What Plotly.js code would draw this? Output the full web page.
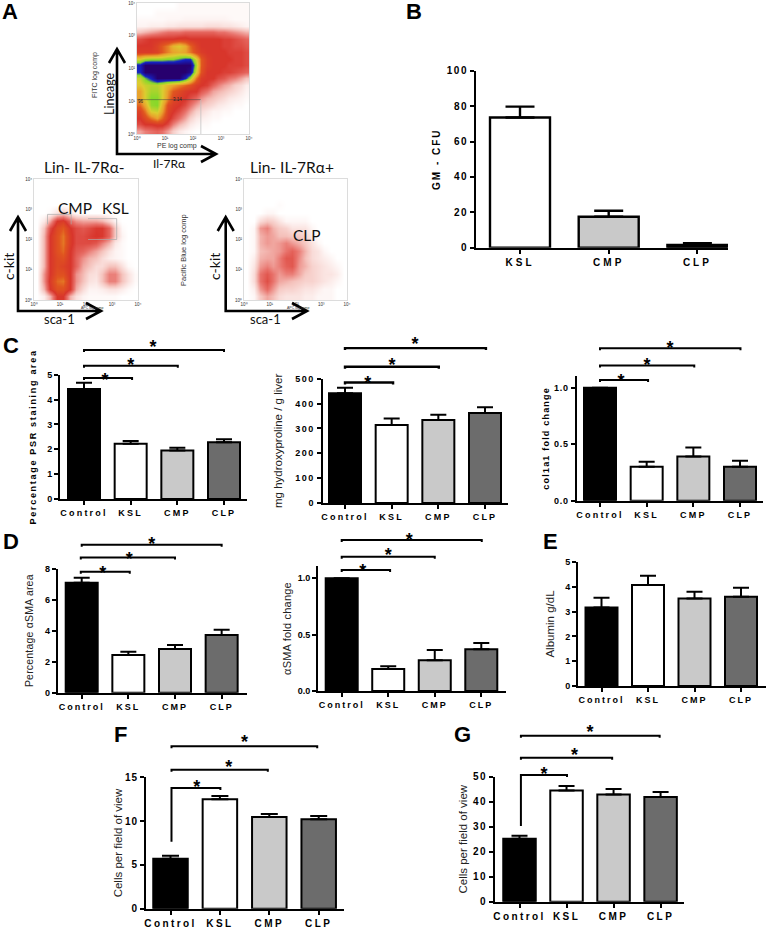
<!DOCTYPE html>
<html><head><meta charset="utf-8">
<script src="https://cdn.plot.ly/plotly-3.0.1.min.js"></script>
<style>html,body{margin:0;padding:0;background:#fff}#chart{width:767px;height:929px}</style>
</head><body><div id="chart"></div>
<script>
const W = 767, H = 929;
const fourCats = ['Control','KSL','CMP','CLP'];
const threeCats = ['KSL','CMP','CLP'];
const fourColors = ['#000000','#ffffff','#c9c9c9','#6c6c6c'];
const threeColors = ['#ffffff','#c9c9c9','#000000'];

const gmValues = [73.6,17.5,1.5],            gmErrors = [6.1,3.4,1.1];
const psrValues = [4.42,2.22,1.95,2.28],     psrErrors = [0.26,0.11,0.11,0.12];
const hypValues = [441,314,334,362],         hypErrors = [23,26,21,23];
const colValues = [1.0,0.30,0.39,0.30],      colErrors = [0,0.045,0.08,0.054];
const smaValues = [7.1,2.43,2.82,3.72],      smaErrors = [0.32,0.22,0.26,0.34];
const smaFoldValues = [1.0,0.195,0.272,0.37],smaFoldErrors = [0,0.025,0.092,0.056];
const albValues = [3.17,4.07,3.53,3.6],      albErrors = [0.39,0.38,0.27,0.36];
const cellsFValues = [5.71,12.49,10.47,10.2],cellsFErrors = [0.34,0.38,0.34,0.38];
const cellsGValues = [25.2,44.5,42.9,41.9],  cellsGErrors = [1.2,1.8,2.2,2.0];

// density levels, top row first
const lineageDensity = [
[0,0,0,0,0,0,0,.1,.1,.1,.1,.1,.1,.1,.1,.1,.1,.1,.1,.1],
[0,0,0,.1,.1,.1,.1,.1,.1,.1,.1,.1,.1,.1,.1,.1,.1,.1,.1,.1],
[.1,.1,.1,.1,.1,.15,.15,.15,.2,.2,.2,.2,.2,.2,.2,.2,.15,.1,.1,.1],
[.2,.2,.3,.3,.3,.4,.4,.5,.5,.5,.5,.5,.6,.6,.6,.5,.5,.4,.3,.2],
[1,1.2,1.4,1.6,1.8,2,2,2,2.2,2.2,2.2,2.2,2.2,2.2,2,2,1.8,1.6,1.4,1.2],
[2.6,2.8,3,3,3,3,3,3.2,3.2,3,3,3,3,3,3,2.8,2.8,2.6,2.4,2.2],
[3,3,3,3.4,4,4.6,5.4,5.8,5.2,4.2,3.4,3,3,3,3,2.8,2.8,2.6,2.6,2.4],
[3.2,3.2,3.2,3.4,4,4.6,5,5.2,5,4.4,3.6,3.2,3,3,3,3,2.8,2.8,2.8,2.6],
[6,6.6,6.8,6.8,6.8,7,7,7.4,7.8,7.8,6,4,3.2,3,3,3,3,2.8,2.8,2.6],
[8,9,9,9,9,9,9,9,9,9,6.6,4,3.2,3,3,3,2.8,2.8,2.8,2.6],
[7.8,9,9,9,9,9,9,9,9,8.6,6,3.8,3,3,3,2.8,2.8,2.6,2.4,2.2],
[6.2,7.2,8,9,9,9,9,9,8,6.6,4.4,3.2,3,3,2.6,2.4,2,1.8,1.4,1],
[5.8,6.2,6.4,6.4,6,5.4,5,4.6,4.2,3.8,3.2,3,2.8,2.2,1.8,1.4,1.2,.8,.6,.3],
[5,6,6.6,6.6,6,4.8,4,3.6,3.2,3,3,2.4,2,1.4,1.2,1,.8,.6,.4,.2],
[5,6,7,7,6,4.6,3.6,3.2,3,2.6,2.2,1.6,1.2,1,.8,.6,.4,.3,.2,.1],
[4.2,5.2,6.8,7,5.4,3.6,3.2,3,2.6,2,1.4,1,.8,.6,.4,.3,.2,.1,.1,0],
[3.4,4.4,6,6.2,5,3.4,3,2.6,2,1.4,.8,.6,.4,.2,.2,.1,.1,0,0,0],
[3,3.6,4.4,5,4.2,3.2,2.6,2,1.4,.8,.4,.3,.2,.1,.1,0,0,0,0,0],
[2.6,3,3,3.2,3.2,2.6,1.8,1.2,.8,.4,.2,.1,.1,0,0,0,0,0,0,0],
[1.4,1.8,2,2.2,2,1.4,.8,.4,.2,.1,0,0,0,0,0,0,0,0,0,0]];

const negDensity = [
[0,0,0,0,0,0,0,0,0,0,0,0,0,0,0,0],
[0,0,0,0,0,0,0,0,0,0,0,0,0,0,0,0],
[0,0,0,0,0,0,0,0,0,0,0,0,0,0,0,0],
[0,0,0,0,0,0,0,0,0,0,0,0,0,0,0,0],
[0,0,.1,.5,.8,.4,.1,0,0,0,0,0,0,0,0,0],
[0,.4,1.4,3,3.2,2.2,1.6,1.4,1.4,1.4,1.2,.7,.2,0,0,0],
[0,1,2.6,3.6,4,3,2.6,2.4,2.6,2.9,2.9,2.2,.9,.1,0,0],
[0,1.2,3,3.8,4.4,3.2,2.6,2.6,2.8,3,2.9,2.2,.9,.2,0,0],
[0,1.2,3,3.8,4.4,3.2,2.6,2.6,2.6,2.4,1.8,1.2,.4,.1,0,0],
[0,1.2,3,3.8,4.2,3,2.4,2.2,1.8,1.4,1,.5,.2,.1,0,0],
[0,1.2,3,3.6,3.8,3,2.2,1.6,1.2,1,.6,.3,.2,.1,0,0],
[0,1.2,3,3.6,3.4,3,2.2,1.3,1,.6,.6,1,1,.5,.1,0],
[0,1.6,3,3.8,3.8,3,1.6,1.1,.6,.5,1,1.8,1.8,1,.5,.1],
[0,1.6,3.2,4.2,4.4,3,1.6,1,.5,.4,1,1.8,1.8,1,.5,.1],
[0,1.2,3,3.8,3.8,3,1.3,.6,.2,.2,.3,.5,.5,.3,.1,0],
[0,.3,1.2,3,3,1.2,.5,.2,.1,.1,.1,.1,.1,0,0,0]];

const posDensity = [
[0,0,0,0,0,0,0,0,0,0,0,0,0,0,0,0],
[0,0,0,0,0,0,0,0,0,0,0,0,0,0,0,0],
[0,0,0,0,0,0,0,0,0,0,0,0,0,0,0,0],
[0,0,0,0,0,.05,0,0,0,0,0,0,0,0,0,0],
[0,0,0,.1,.1,0,0,0,0,0,0,0,0,0,0,0],
[0,0,.4,.6,.5,.3,.1,.1,.1,.1,0,0,0,0,0,0],
[0,.1,1,1.2,.8,.6,.5,.3,.3,.3,.1,0,0,0,0,0],
[0,.1,.8,1,.9,.7,.7,.6,.6,.5,.2,0,0,0,0,0],
[0,.1,.8,1,.9,1,1.2,1,.8,.6,.3,.1,0,0,0,0],
[0,.1,.7,.8,.9,1,1.3,1.5,1.2,.8,.4,.3,.1,0,0,0],
[0,.2,.8,.9,.9,1.2,1.6,1.6,1.1,.7,.4,.3,.2,.1,0,0],
[0,.3,1,1.2,1,1.2,1.5,1.6,1,.8,.5,.4,.3,.2,.1,0],
[0,.4,1.3,1.6,1.3,1,1.2,1.2,.9,.6,.5,.4,.3,.3,.2,0],
[0,.4,1.3,1.7,1.3,.9,.8,.7,.6,.5,.5,.4,.3,.2,.1,0],
[0,.2,1,1.4,1,.6,.5,.5,.4,.3,.3,.2,.1,.1,0,0],
[0,.1,.6,.9,.7,.4,.3,.3,.3,.2,.2,.1,.1,.1,0,0]];

const flowColors = [[0,'#ffffff'],[.11,'#f5c4be'],[.22,'#e8716a'],[.33,'#d8352b'],[.44,'#e0551f'],[.55,'#e9a12c'],[.66,'#dccd30'],[.78,'#86d82a'],[.87,'#1423c4'],[1,'#27006e']];
const decadeLabels = ['10⁰','10¹','10²','10³','10⁴'];

const FONT = 'Liberation Sans, Arial, sans-serif';
const LATO = 'Lato, sans-serif';
const panels = [
 {cats:threeCats,colors:threeColors,values:gmValues,errors:gmErrors,x0:476,x1:728,c0:520,s:88.7,w:60,py0:247.7,py1:70.7,ymax:100,dy:20,title:'GM - CFU',tb:true,ts:2,so:4,tf:10,lf:10,lsp:3,ysp:1.5,cap:14.5,lw:2.4},
 {cats:fourCats,colors:fourColors,values:psrValues,errors:psrErrors,x0:60,x1:246.7,c0:84,s:46.67,w:32,py0:499,py1:374.7,ymax:5,dy:1,title:'Percentage PSR staining area',tb:true,ts:1.7,so:9,tf:9,lf:9,lsp:2.2,ysp:0,cap:8,
  br:[[0,1.03,4.87],[0,2.01,5.36],[0,3,5.99]],st:[[.45,4.92],[1,5.52],[1.48,6.24]]},
 {cats:fourCats,colors:fourColors,values:hypValues,errors:hypErrors,x0:322.7,x1:508,c0:345,s:46.67,w:32,py0:503,py1:378.7,ymax:500,dy:100,title:'mg hydroxyproline / g liver',tb:false,ts:0,so:10,tf:11.5,lf:9,lsp:2.2,ysp:1.5,cap:8,blw:2.4,
  br:[[0,1.03,485],[0,2.01,548],[0,3.02,623]],st:[[.486,497],[1.01,568],[1.5,655]]},
 {cats:fourCats,colors:fourColors,values:colValues,errors:colErrors,x0:576.7,x1:763,c0:600,s:46.67,w:32,py0:500.7,py1:376,ymax:1.103,tv:[0,.5,1],tt:['0.0','0.5','1.0'],title:'col1a1 fold change',tb:true,ts:1.2,so:3,tf:9,lf:9,lsp:2.2,ysp:.8,cap:8,
  br:[[0,1.03,1.068],[0,2.02,1.195],[0,3.01,1.348]],st:[[.45,1.088],[1.01,1.233],[1.5,1.386]]},
 {cats:fourCats,colors:fourColors,values:smaValues,errors:smaErrors,x0:57.7,x1:247,c0:81.7,s:46.65,w:32,py0:692.7,py1:568.7,ymax:8,dy:2,title:'Percentage αSMA area',tb:false,ts:.2,so:9,tf:10.5,lf:9,lsp:2,ysp:0,cap:8,
  br:[[-.02,1.03,7.81],[-.02,2,8.73],[0,3,9.55]],st:[[.45,7.96],[1.02,8.88],[1.5,9.83]]},
 {cats:fourCats,colors:fourColors,values:smaFoldValues,errors:smaFoldErrors,x0:318,x1:506,c0:341.7,s:46.53,w:32,py0:691,py1:566,ymax:1.109,tv:[0,.5,1],tt:['0.0','0.5','1.0'],title:'αSMA fold change',tb:false,ts:.2,so:4,tf:11,lf:9,lsp:2,ysp:0,cap:8,
  br:[[0,1.04,1.074],[0,2,1.192],[0,3.01,1.34]],st:[[.45,1.095],[1,1.234],[1.45,1.37]]},
 {cats:fourCats,colors:fourColors,values:albValues,errors:albErrors,x0:578,x1:765.6,c0:601.5,s:46.5,w:32,py0:686,py1:562,ymax:5,dy:1,title:'Albumin g/dL',tb:false,ts:0,so:8,tf:11.5,lf:9,lsp:2,ysp:0,cap:8},
 {cats:fourCats,colors:fourColors,values:cellsFValues,errors:cellsFErrors,x0:146,x1:344,c0:170.5,s:49.4,w:34.5,py0:908.7,py1:777.3,ymax:15,dy:5,title:'Cells per field of view',tb:false,ts:0,so:0,tf:11.5,lf:10,lsp:2.4,ysp:1,cap:8.5,
  br:[[.02,1.01,13.78,7.65],[.02,1.97,15.87],[.02,2.97,18.54]],st:[[.53,14.24],[1.18,16.6],[1.5,19.45]]},
 {cats:fourCats,colors:fourColors,values:cellsGValues,errors:cellsGErrors,x0:495,x1:684.4,c0:519.5,s:47.03,w:32.5,py0:901.7,py1:776.7,ymax:50,dy:10,title:'Cells per field of view',tb:false,ts:0,so:3,tf:11.5,lf:10,lsp:2.4,ysp:1.5,cap:8,
  br:[[.03,1.01,50.7,30.3],[.03,1.97,57.6],[.03,2.98,66.4]],st:[[.52,52.4],[1.17,60],[1.5,69.3]]}
];

const flows = [
 {z:lineageDensity,zmax:9,x0:137,x1:249,py0:134,py1:3},
 {z:negDensity,zmax:9,x0:34,x1:138,py0:300,py1:179,
  gates:[[[.52,.52,1.43,1.43],[2.5,2.83,2.83,2.5]],[[2.08,3.18,3.18,2.08],[2.69,2.69,2.0,2.0]]]},
 {z:posDensity,zmax:6,x0:244,x1:347,py0:300,py1:179}
];

const data = [], layout = {
 width:W,height:H,autosize:false,margin:{l:0,r:0,t:0,b:0,pad:0},
 paper_bgcolor:'#fff',plot_bgcolor:'rgba(0,0,0,0)',showlegend:false,hovermode:false,
 font:{family:FONT,color:'#000'},annotations:[],shapes:[]
};
let css = '';
let idx = 1;
let auxIdx = flows.length + panels.length + 1;
const BRACKET_ROOM = 50; // px of invisible axis above each visible y axis, same scale
const axName = n => n===1?'':String(n);
const pxX = x => x/W, pxY = y => 1-y/H;

flows.forEach(f=>{
 const k = axName(idx), rows = f.z.length, cols = f.z[0].length;
 const cx = f.z[0].map((_,i)=>(i+.5)*4/cols), cy = f.z.map((_,i)=>(i+.5)*4/rows);
 data.push({type:'heatmap',z:f.z.slice().reverse(),x:cx,y:cy,zmin:0,zmax:f.zmax,colorscale:flowColors,showscale:false,zsmooth:'best',hoverinfo:'skip',xaxis:'x'+k,yaxis:'y'+k});
 (f.gates||[]).forEach(g=>data.push({type:'scatter',mode:'lines',x:g[0],y:g[1],line:{color:'#aaa',width:.7},xaxis:'x'+k,yaxis:'y'+k,hoverinfo:'skip'}));
 const common = {range:[0,4],tickmode:'array',tickvals:[0,1,2,3,4],ticktext:decadeLabels,tickfont:{size:4.5,color:'#333'},ticks:'',showgrid:false,zeroline:false,showline:true,mirror:true,linecolor:'#dcdcdc',linewidth:1,fixedrange:true,tickangle:0};
 layout['xaxis'+k] = Object.assign({},common,{domain:[pxX(f.x0),pxX(f.x1)],anchor:'y'+k});
 layout['yaxis'+k] = Object.assign({},common,{domain:[pxY(f.py0),pxY(f.py1)],anchor:'x'+k});
 idx++;
});
// gate lines on the lineage plot
data.push({type:'scatter',mode:'lines',x:[0,2.28],y:[1.05,1.05],line:{color:'#444',width:.5},xaxis:'x',yaxis:'y',hoverinfo:'skip'});
data.push({type:'scatter',mode:'lines',x:[2.28,2.28],y:[0,1.05],line:{color:'#bbb',width:.7},xaxis:'x',yaxis:'y',hoverinfo:'skip'});

panels.forEach(p=>{
 const k = axName(idx), ax='x'+k, ay='y'+k;
 const unit = (p.py0-p.py1)/p.ymax;
 const xs = p.cats.map((_,i)=>i);
 data.push({type:'bar',x:xs,y:p.values,width:p.w/p.s,marker:{color:p.colors,line:{color:'#000',width:p.lw||2}},
  error_y:{type:'data',symmetric:false,array:p.errors,arrayminus:p.errors.map(()=>0),color:'#000',thickness:p.lw||2,width:p.cap},
  xaxis:ax,yaxis:ay,hoverinfo:'skip'});
 if(p.br){
  const ka = String(auxIdx++), ayA='y'+ka;
  layout['yaxis'+ka] = {domain:[pxY(p.py0),pxY(p.py1-BRACKET_ROOM)],anchor:ax,range:[0,p.ymax+BRACKET_ROOM/unit],visible:false,fixedrange:true};
  p.br.forEach(b=>{
   const d = 2/unit, low = b[3]!==undefined?b[3]:b[2]-d;
   data.push({type:'scatter',mode:'lines',x:[b[0],b[0],b[1],b[1]],y:[low,b[2],b[2],b[2]-d],line:{color:'#000',width:p.blw||2},xaxis:ax,yaxis:ayA,hoverinfo:'skip'});
  });
  data.push({type:'scatter',mode:'text',x:p.st.map(s=>s[0]),y:p.st.map(s=>s[1]-5/unit),text:p.st.map(()=>'*'),textposition:'middle center',textfont:{size:18,family:FONT,color:'#000',weight:'bold'},cliponaxis:false,xaxis:ax,yaxis:ayA,hoverinfo:'skip'});
 }
 const lw = 2;
 layout['xaxis'+k] = {domain:[pxX(p.x0),pxX(p.x1)],anchor:ay,range:[(p.x0-p.c0)/p.s,(p.x1-p.c0)/p.s],tickmode:'array',tickvals:xs,ticktext:p.cats,tickangle:0,
  tickfont:{family:FONT,size:p.lf,weight:'bold',color:'#000'},ticks:'outside',ticklen:4,tickwidth:lw,tickcolor:'#000',showline:true,linecolor:'#000',linewidth:lw,showgrid:false,zeroline:false,fixedrange:true};
 const tv = p.tv || Array.from({length:Math.round(p.ymax/p.dy)+1},(_,i)=>i*p.dy);
 const tt = p.tt || tv.map(String);
 layout['yaxis'+k] = {domain:[pxY(p.py0),pxY(p.py1)],anchor:ax,range:[0,p.ymax],tickmode:'array',tickvals:tv,ticktext:tt,tickangle:0,
  tickfont:{family:FONT,size:p.lf,weight:'bold',color:'#000'},ticks:'outside',ticklen:4,tickwidth:lw,tickcolor:'#000',showline:true,linecolor:'#000',linewidth:lw,showgrid:false,zeroline:false,fixedrange:true,
  title:{text:p.title,standoff:p.so,font:{family:FONT,size:p.tf,weight:p.tb?'bold':'normal',color:p.tb?'#000':'#222'}}};
 css += `.x${k}tick text{letter-spacing:${p.lsp}px}.y${k}tick text{letter-spacing:${p.ysp}px}.y${k}title{letter-spacing:${p.ts}px}`;
 idx++;
});

function note(text,px,py,size,o){
 o=o||{};
 layout.annotations.push({text,xref:'paper',yref:'paper',x:pxX(px),y:pxY(py),xanchor:'center',yanchor:'middle',showarrow:false,textangle:o.angle||0,
  font:{family:o.family||LATO,size,color:o.color||'#111',weight:o.weight||'normal'}});
}
// panel letters
[['A',10,12],['B',413.5,12],['C',10.5,345],['D',11,541],['E',550.5,541],['F',120,734],['G',462.7,734]].forEach(l=>note(l[0],l[1],l[2],22,{family:FONT,weight:'bold',color:'#000'}));
// flow labels
note('Lin- IL-7Rα-',84,167,15.5);
note('Lin- IL-7Rα+',292,167,15.5);
note('CMP',75,208,15.5);
note('KSL',115,208,15.5);
note('CLP',307,235,15.5);
note('c-kit',8,267,14,{angle:-90});
note('c-kit',214,267,14,{angle:-90});
note('sca-1',59,319,13);
note('sca-1',265,319,13);
note('Lineage',109,94,12.5,{angle:-90});
note('Il-7Rα',169,164,12);
note('FITC log comp',95,75,7,{angle:-90,family:FONT,color:'#333'});
note('PE log comp',177,146,7,{family:FONT,color:'#333'});
note('Pacific Blue log comp',184,250,7.5,{angle:-90,family:FONT,color:'#333'});
note('APC log comp',92,308,3.5,{family:FONT,color:'#333'});
note('APC log comp',298,308,3.5,{family:FONT,color:'#333'});
note('96',141,102,4.5,{family:FONT,color:'#222'});
note('3.14',177,99,4.5,{family:FONT,color:'#222'});

// axis arrows of the flow plots
function arrow(ox,oy,ty,rx){
 const P=(x,y)=>pxX(x).toFixed(5)+' '+pxY(y).toFixed(5);
 const path='M'+P(ox,ty)+' L'+P(ox,oy)+' L'+P(rx,oy)+
  ' M'+P(ox-8,ty+14)+' L'+P(ox,ty)+' L'+P(ox+8,ty+14)+
  ' M'+P(rx-15,oy-8)+' L'+P(rx,oy)+' L'+P(rx-15,oy+8);
 layout.shapes.push({type:'path',xref:'paper',yref:'paper',path,line:{color:'#000',width:2.6}});
}
arrow(117,154,49,216);
arrow(18,311,217,101);
arrow(225.7,311,217,307);

const st=document.createElement('style');st.textContent=css;document.head.appendChild(st);
Plotly.newPlot('chart',data,layout,{displayModeBar:false,staticPlot:true,responsive:false});
</script></body></html>
